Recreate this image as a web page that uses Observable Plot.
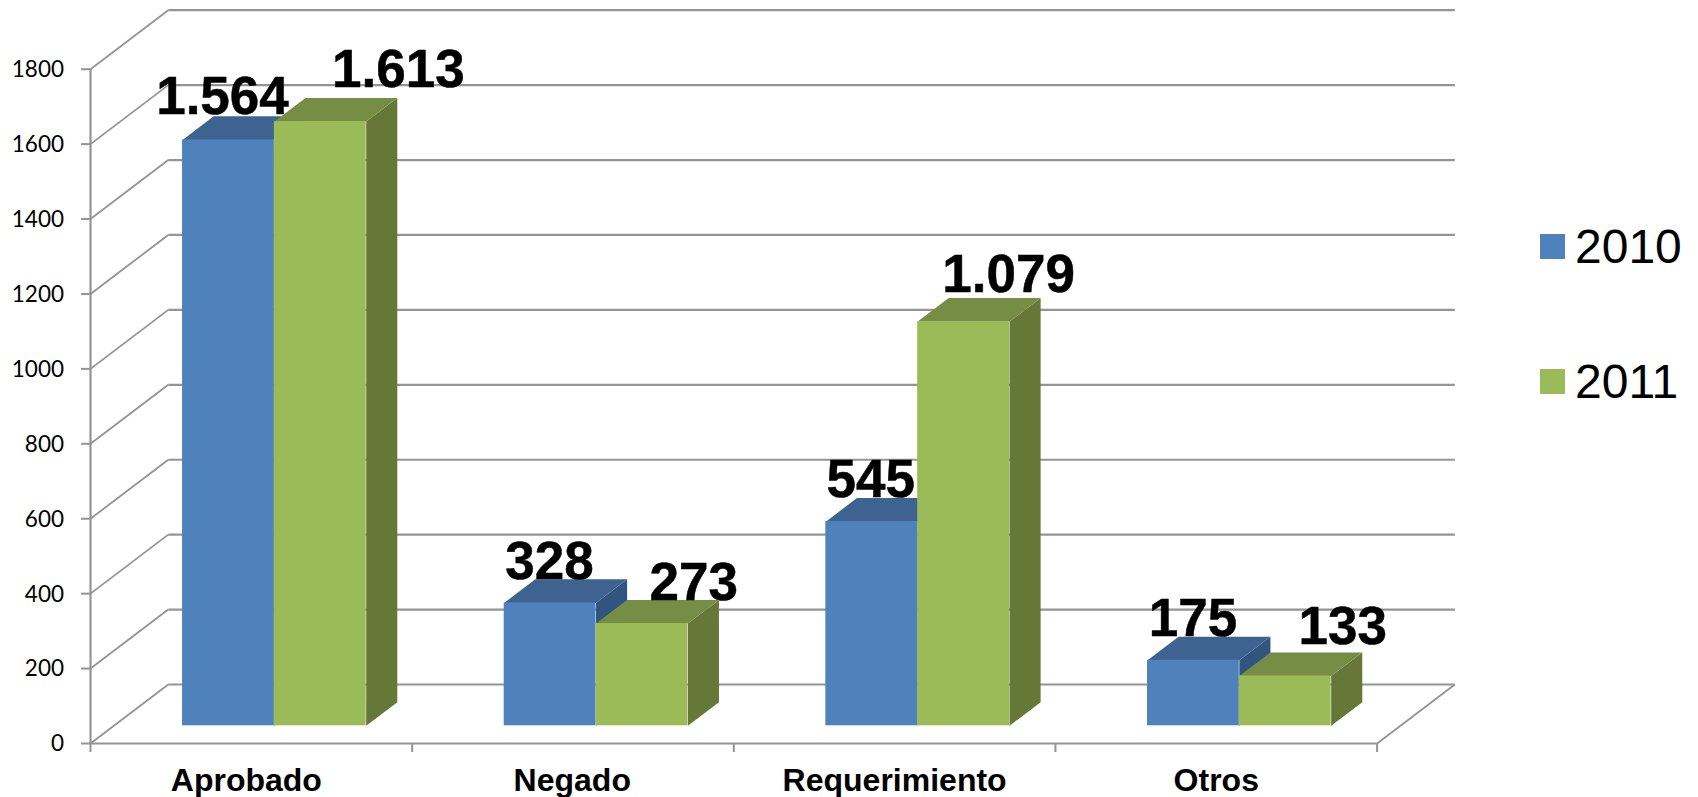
<!DOCTYPE html>
<html>
<head>
<meta charset="utf-8">
<script src="https://cdn.jsdelivr.net/npm/d3@7"></script>
<script src="https://cdn.jsdelivr.net/npm/@observablehq/plot@0.6"></script>
<style>
  html, body { margin: 0; padding: 0; background: #fff; }
  #wrap { position: relative; width: 1698px; height: 797px; overflow: hidden; }
  #legend { position: absolute; left: 1540px; top: 0; font: 48px "Liberation Sans", Arial, sans-serif; color: #000; }
  #legend .row { position: absolute; left: 0; display: flex; align-items: center; height: 25px; white-space: nowrap; }
  #legend .sw { width: 25px; height: 25px; margin-right: 10px; flex: none; }
</style>
</head>
<body>
<div id="wrap"><div id="legend"></div></div>
<script>
// Data
const categories = ["Aprobado", "Negado", "Requerimiento", "Otros"];
const years = ["2010", "2011"];
const values2010 = [1564, 328, 545, 175];
const values2011 = [1613, 273, 1079, 133];
const labels2010 = ["1.564", "328", "545", "175"];
const labels2011 = ["1.613", "273", "1.079", "133"];
const yTicks = [0, 200, 400, 600, 800, 1000, 1200, 1400, 1600, 1800];
const slotEdges = [0, 1, 2, 3, 4];

// Hand placement of the labels in the original (pixels)
const nudge2010 = [[-6, -26], [-0.7, -24.4], [-1, -24.4], [-0.5, -24.7]];
const nudge2011 = [[78, -34.4], [51.7, -23.7], [45, -29.4], [57.5, -32.2]];
const categoryNudge = [-5, -0.7, 0, 0];

// Oblique projection, in scale units
const depthX = 0.2417, depthY = 157.5;      // full depth of the chart box
const planeShift = 0.3, barDepth = 0.4;     // bars sit 30% back and fill 40% of the depth
const barLeft = 0.2862, barWidth = 0.2855;  // within one category slot

const shades = [
  {front: "#4f81bd", top: "#3e6391", side: "#31557e"},
  {front: "#9bbb59", top: "#768d45", side: "#657837"}
];
const grey = "#949494";

const sy = planeShift * depthY;
const bx = barDepth * depthX, by = barDepth * depthY;

function barRows(values, s) {
  return values.map((v, i) => {
    const x1 = i + barLeft + s * barWidth;
    return {x1, x2: x1 + barWidth, y1: sy, y2: v + sy, v, i};
  });
}
const poly = (rows, fn) => rows.flatMap(r => fn(r).map(([x, y]) => ({x, y, z: r.i})));

function seriesMarks(values, s) {
  const rows = barRows(values, s);
  const side = poly(rows, r => [[r.x2, r.y1], [r.x2, r.y2], [r.x2 + bx, r.y2 + by], [r.x2 + bx, r.y1 + by]]);
  const top = poly(rows, r => [[r.x1, r.y2], [r.x2, r.y2], [r.x2 + bx, r.y2 + by], [r.x1 + bx, r.y2 + by]]);
  return [
    Plot.line(side, {x: "x", y: "y", z: "z", fill: shades[s].side, stroke: "none"}),
    Plot.line(top, {x: "x", y: "y", z: "z", fill: shades[s].top, stroke: "none"}),
    Plot.rect(rows, {x1: "x1", x2: "x2", y1: "y1", y2: "y2", fill: shades[s].front})
  ];
}

function labelMarks(values, labels, nudges, s) {
  const rows = barRows(values, s);
  return rows.map((r, i) => Plot.text([labels[i]], {
    x: () => (r.x1 + r.x2) / 2,
    y: () => r.y2,
    text: d => d,
    dx: nudges[i][0],
    dy: nudges[i][1],
    lineAnchor: "bottom",
    textAnchor: "middle",
    fontFamily: "Liberation Sans, Arial, sans-serif",
    fontWeight: "bold",
    fontSize: 53,
    fill: "#000",
    stroke: "#000",
    strokeWidth: 0.5
  }));
}

const chart = Plot.plot({
  width: 1698,
  height: 797,
  marginLeft: 90,
  marginRight: 1698 - 1376.6,
  marginTop: 68.7,
  marginBottom: 54,
  style: {background: "#fff", fontFamily: "Liberation Sans, Arial, sans-serif", display: "block", overflow: "visible"},
  x: {domain: [0, 4], axis: null},
  y: {domain: [0, 1800], axis: null},
  marks: [
    // back wall gridlines
    Plot.link(yTicks, {
      x1: () => depthX, x2: () => 4 + depthX,
      y1: d => d + depthY, y2: d => d + depthY,
      stroke: grey, strokeWidth: 2.2
    }),
    // side wall diagonals
    Plot.link(yTicks, {
      x1: () => 0, x2: () => depthX,
      y1: d => d, y2: d => d + depthY,
      stroke: grey, strokeWidth: 1.8
    }),
    // right edge of the floor
    Plot.link([0], {
      x1: () => 4, x2: () => 4 + depthX,
      y1: () => 0, y2: () => depthY,
      stroke: grey, strokeWidth: 1.8
    }),
    ...seriesMarks(values2010, 0),
    ...seriesMarks(values2011, 1),
    // axis lines and ticks
    Plot.ruleX([0], {y1: 0, y2: 1800, stroke: grey, strokeWidth: 2.2}),
    Plot.ruleY([0], {x1: 0, x2: 4, stroke: grey, strokeWidth: 2.2}),
    Plot.axisY({ticks: yTicks, tickSize: 9, fill: "none", label: null, stroke: grey, strokeWidth: 2, strokeOpacity: 1}),
    Plot.axisX({ticks: slotEdges, tickSize: 9, fill: "none", label: null, stroke: grey, strokeWidth: 2, strokeOpacity: 1}),
    Plot.axisY({ticks: yTicks, tickSize: 0, tickPadding: 26.5, tickFormat: d => String(d), label: null,
      fill: "#000", fontSize: 22.5, fontFamily: "Lato, sans-serif", dy: 0.7}),
    // category names
    ...categories.map((c, i) => Plot.text([c], {
      x: () => i + 0.5,
      y: () => 0,
      text: d => d,
      dx: categoryNudge[i],
      dy: 47.7,
      lineAnchor: "bottom",
      textAnchor: "middle",
      fontFamily: "Liberation Sans, Arial, sans-serif",
      fontWeight: "bold",
      fontSize: 32,
      fill: "#000"
    })),
    ...labelMarks(values2010, labels2010, nudge2010, 0),
    ...labelMarks(values2011, labels2011, nudge2011, 1)
  ]
});

const wrap = document.getElementById("wrap");
wrap.insertBefore(chart, wrap.firstChild);

// Legend
const legendTops = [234, 369];
d3.select("#legend").selectAll(".row").data(years).join("div")
  .attr("class", "row")
  .style("top", (d, i) => legendTops[i] + "px")
  .each(function (d, i) {
    const row = d3.select(this);
    row.append("div").attr("class", "sw").style("background", shades[i].front);
    row.append("span").text(d);
  });
</script>
</body>
</html>
